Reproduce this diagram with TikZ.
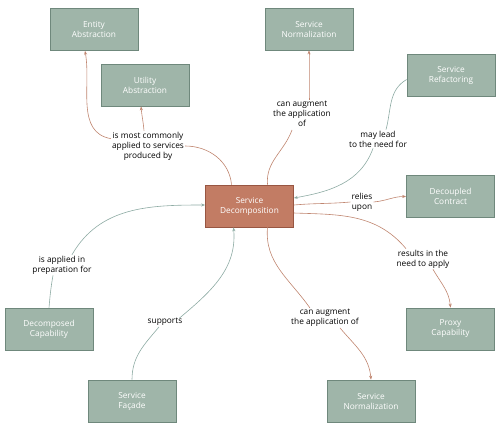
\documentclass[tikz,border=0pt]{standalone}
\usepackage{fontspec}
\setmainfont{Open Sans}
\usepackage{xcolor}
\usetikzlibrary{arrows.meta,positioning,calc}
\definecolor{boxfill}{HTML}{9FB5A9}
\definecolor{boxedge}{HTML}{6F887C}
\definecolor{decfill}{HTML}{C27C64}
\definecolor{decedge}{HTML}{985642}
\definecolor{rust}{HTML}{C08670}
\definecolor{sage}{HTML}{8DABA3}
\begin{document}
\begin{tikzpicture}[x=1pt, y=-1pt,
  pat/.style={draw=boxedge, fill=boxfill, line width=0.7pt, minimum width=88pt, minimum height=42pt,
    text=white, font=\fontsize{8.3}{10}\selectfont, align=center, inner sep=1pt},
  core/.style={pat, draw=decedge, fill=decfill},
  rel/.style={font=\fontsize{8.3}{10}\selectfont, align=center, inner sep=1pt},
  tow/.style={draw=rust, line width=0.6pt, -{Stealth[length=4pt,width=3pt]}},
  from/.style={draw=sage, line width=0.6pt, -{Stealth[length=4pt,width=3pt]}},
  plain/.style={line width=0.6pt}]
\useasboundingbox (0,0) rectangle (500,431);
% patterns
\node[pat] (ent) at (94,29.5) {Entity\\Abstraction};
\node[pat] (util) at (145,85) {Utility\\Abstraction};
\node[pat] (normtop) at (309,29) {Service\\Normalization};
\node[pat] (refac) at (451,75.5) {Service\\Refactoring};
\node[pat] (decoup) at (450.5,196.5) {Decoupled\\Contract};
\node[core] (decomp) at (249.5,206) {Service\\Decomposition};
\node[pat] (decap) at (49,329) {Decomposed\\Capability};
\node[pat] (facade) at (132,401) {Service\\Fa\c{c}ade};
\node[pat] (proxy) at (450.5,329) {Proxy\\Capability};
\node[pat] (normbot) at (371,401) {Service\\Normalization};
% relation labels
\node[rel] (lbabs) at (148,146) {is most commonly\\applied to services\\produced by};
\node[rel] (lbnormt) at (302,114) {can augment\\the application\\of};
\node[rel] (lbrefac) at (378,139) {may lead\\to the need for};
\node[rel] (lbrely) at (362,202) {relies\\upon};
\node[rel] (lbproxy) at (423,259) {results in the\\need to apply};
\node[rel] (lbnormb) at (325,318) {can augment\\the application of};
\node[rel] (lbfac) at (165,322) {supports};
\node[rel] (lbdecap) at (62,265) {is applied in\\preparation for};
% connectors
\draw[plain, draw=rust] ($(decomp.north)+(-18,0)$) to[out=95,in=0] (lbabs.east);
\draw[tow] ($(lbabs.north west)+(0,8)$) to[out=170,in=-80] ($(ent.south)+(-9,0)$);
\draw[tow] ($(lbabs.north)+(-4,0)$) to[out=95,in=-85] ($(util.south)+(-4,0)$);
\draw[plain, draw=rust] ($(decomp.north)+(18,0)$) to[out=95,in=-110] ($(lbnormt.south)+(-10,2)$);
\draw[tow] ($(lbnormt.north)+(7,0)$) to[out=90,in=-90] (normtop.south);
\draw[plain, draw=sage] ($(refac.west)+(0,4)$) to[out=210,in=75] ($(lbrefac.north)+(8,0)$);
\draw[from] ($(lbrefac.south)+(-5,0)$) to[out=-110,in=10] ($(decomp.east)+(0,-8)$);
\draw[plain, draw=rust] ($(decomp.east)+(0,-1)$) to[out=5,in=185] (lbrely.west);
\draw[tow] (lbrely.east) to[out=5,in=180] (decoup.west);
\draw[plain, draw=rust] ($(decomp.east)+(0,7)$) to[out=-2,in=130] ($(lbproxy.north)+(-17,0)$);
\draw[tow] ($(lbproxy.south)+(10,0)$) to[out=-60,in=95] (proxy.north);
\draw[plain, draw=rust] ($(decomp.south)+(18,0)$) to[out=-95,in=125] ($(lbnormb.north)+(-15,0)$);
\draw[tow] ($(lbnormb.south)+(15,0)$) to[out=-50,in=95] (normbot.north);
\draw[plain, draw=sage] (facade.north) to[out=90,in=-130] ($(lbfac.south)+(-6,0)$);
\draw[from] ($(lbfac.north east)+(-4,1)$) to[out=40,in=-85] ($(decomp.south)+(-16,0)$);
\draw[plain, draw=sage] (decap.north) to[out=85,in=-100] ($(lbdecap.south)+(-9,0)$);
\draw[from] ($(lbdecap.north)+(10,0)$) to[out=60,in=180] ($(decomp.west)+(0,-1)$);
\end{tikzpicture}
\end{document}
